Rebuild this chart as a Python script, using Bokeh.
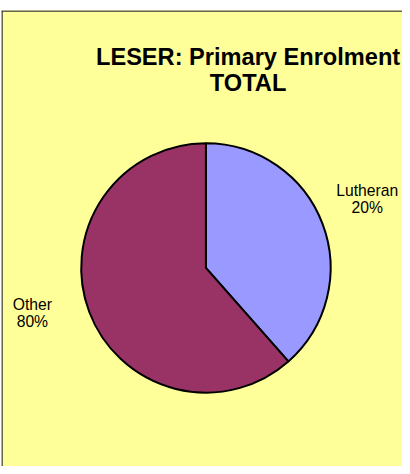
import numpy as np
from bokeh.plotting import figure
from bokeh.models import Range1d, Span, ColumnDataSource
from bokeh.core.properties import value
from bokeh.embed import file_html
from bokeh.resources import INLINE

# ---- data ----
categories = ["Lutheran", "Other"]
slice_values = [38.5, 61.5]          # visible slice sizes as drawn
percent_labels = ["20%", "80%"]      # label texts as printed on the chart
colors = ["#9999FF", "#993366"]
title_lines = ["LESER: Primary Enrolment", "TOTAL"]

# ---- layout ----
W, H = 402, 466
REF_W, REF_H = 410.0, 474.0
sx, sy = W / REF_W, H / REF_H
TOP, LEFT = 10, 1          # white strip above / left of the chart area
FW, FH = W - LEFT, H - TOP

def px(x):   # reference x -> data x
    return x * sx - LEFT
def py(y):   # reference y -> data y
    return H - y * sy

cx, cy, r = 209.5, 272.0, 127.0
label_pos = {"Lutheran": (374.0, 193.5), "Other": (32.5, 309.5)}
line_gap = 17.5
fs = (sx + sy) / 2

p = figure(width=W, height=H, output_backend="svg", toolbar_location=None,
           x_axis_type=None, y_axis_type=None,
           x_range=Range1d(0, FW), y_range=Range1d(0, FH),
           min_border=0, min_border_left=LEFT, min_border_right=0,
           min_border_top=TOP, min_border_bottom=0)
p.background_fill_color = "#FFFF99"
p.border_fill_color = "white"
p.outline_line_color = None
p.grid.visible = False

# pie wedges, clockwise from 12 o'clock
vals = np.array(slice_values, dtype=float)
fr = vals / vals.sum()
cum = np.concatenate([[0], np.cumsum(fr)])
start = [np.pi / 2 - cum[i + 1] * 2 * np.pi for i in range(len(vals))]
end = [np.pi / 2 - cum[i] * 2 * np.pi for i in range(len(vals))]
src = ColumnDataSource(dict(x=[px(cx)] * len(vals), y=[py(cy)] * len(vals),
                            start=start, end=end, color=colors))
p.wedge(x="x", y="y", radius=r * fs, start_angle="start", end_angle="end",
        fill_color="color", line_color="black", line_width=2, source=src)

# title
tbase = [57.5, 83.5]
p.text(x=[px(252.5)] * 2, y=[py(b) for b in tbase], text=title_lines,
       text_font=value("Liberation Sans"), text_font_style="bold",
       text_font_size="%.1fpx" % (24 * fs), text_align="center",
       text_baseline="alphabetic", text_color="black")

# data labels
for cat, pct in zip(categories, percent_labels):
    lx, ly = label_pos[cat]
    p.text(x=[px(lx)] * 2, y=[py(ly), py(ly + line_gap)], text=[cat, pct],
           text_font=value("Liberation Sans"),
           text_font_size="%.1fpx" % (16 * fs),
           text_align="center", text_baseline="alphabetic", text_color="black")

# chart area border (left and top visible)
p.add_layout(Span(location=0.5, dimension="height", line_color="#333333", line_width=1.5))
p.add_layout(Span(location=FH - 0.5, dimension="width", line_color="#333333", line_width=1.5))

open("out.html", "w").write(file_html(p, INLINE))
